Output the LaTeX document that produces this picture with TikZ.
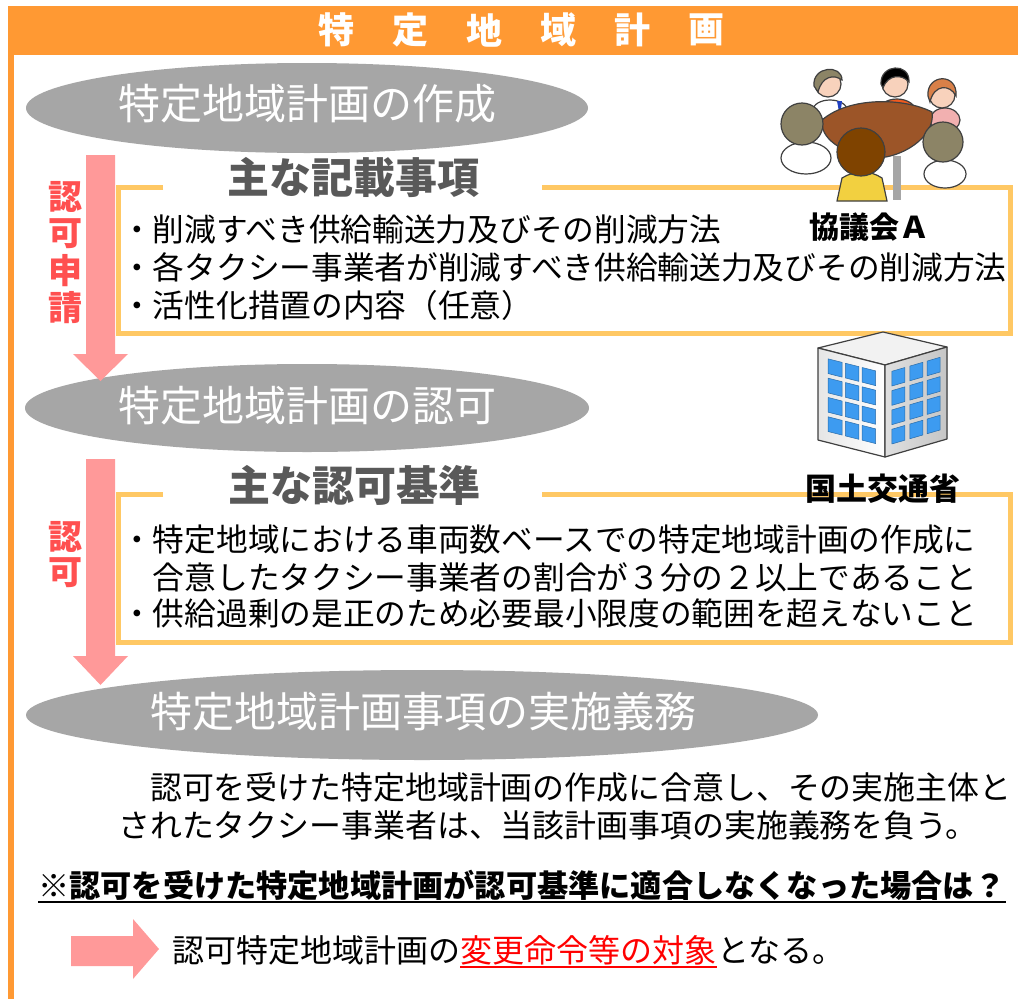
\documentclass[tikz,border=0pt]{standalone}
\usepackage{fontspec}
\setmainfont{Noto Sans CJK JP}
\usetikzlibrary{shapes.geometric}

\definecolor{hdr}{HTML}{FF9933}
\definecolor{ovalgray}{HTML}{A6A6A6}
\definecolor{flowpink}{HTML}{FF9999}
\definecolor{framecol}{HTML}{FFC864}
\definecolor{lblred}{HTML}{FF5050}
\definecolor{ttlgray}{HTML}{595959}
\definecolor{skin}{HTML}{F8D2BC}
\definecolor{hairolive}{HTML}{8C8466}
\definecolor{hairorange}{HTML}{D98048}
\definecolor{hairbrown}{HTML}{7F4300}
\definecolor{shirtorange}{HTML}{F05A1E}
\definecolor{shirtpink}{HTML}{F2B0B0}
\definecolor{shirtyellow}{HTML}{F2D040}
\definecolor{tablebrown}{HTML}{9C5528}
\definecolor{tieblue}{HTML}{2040C0}
\definecolor{winblue}{HTML}{3D9BF0}

\tikzset{
  oval/.style={ellipse, fill=ovalgray, draw=none, inner sep=0},
  ovaltext/.style={inner sep=0, text=white, font=\fontsize{42}{50}\selectfont},
  item/.style={anchor=west, inner sep=0, font=\fontsize{31.7}{38}\selectfont},
  boxtitle/.style={inner sep=0, text=ttlgray, font=\fontsize{42}{48}\selectfont\bfseries},
  vlabel/.style={inner sep=0, text=lblred, font=\fontsize{34}{40}\selectfont\bfseries},
  hdrchar/.style={inner sep=0, text=white, font=\fontsize{36}{40}\selectfont\bfseries},
  caption/.style={inner sep=0, font=\fontsize{30}{36}\selectfont\bfseries},
  framebox/.style={draw=framecol, line width=5pt},
  flowarrow/.style={fill=flowpink, draw=none},
  outline/.style={draw=black!75, line width=1.2pt},
  window/.style={fill=winblue, draw=winblue!70!black, line width=0.5pt},
}

\begin{document}
\begin{tikzpicture}[x=1pt, y=-1pt]
\useasboundingbox (0,0) rectangle (1018,999);
\fill[white] (0,0) rectangle (1018,999);

% header bar and left rule
\fill[hdr] (8,6) rectangle (1018,55);
\fill[hdr] (8,55) rectangle (14,999);
\foreach \c [count=\i from 0] in {特,定,地,域,計,画}
  \node[hdrchar] (h\i) at ({336+74*\i},30) {\c};

% stage ellipses
\node[oval, minimum width=562, minimum height=90] (e1) at (307,108) {};
\node[ovaltext] (e1t) at (307,104) {特定地域計画の作成};
\node[oval, minimum width=564, minimum height=88] (e2) at (307,408) {};
\node[ovaltext] (e2t) at (307,406) {特定地域計画の認可};
\node[oval, minimum width=792, minimum height=90] (e3) at (422,715) {};
\node[ovaltext] (e3t) at (423,712) {特定地域計画事項の実施義務};

% downward block arrows
\fill[flowarrow] (86,155) -- (115,155) -- (115,354) -- (128,354) -- (100.5,381)
  -- (73,354) -- (86,354) -- cycle;
\fill[flowarrow] (86,459) -- (115,459) -- (115,656) -- (128,656) -- (100.5,685)
  -- (73,656) -- (86,656) -- cycle;

% vertical labels beside the arrows
\node[vlabel] (l1) at (65,197) {認};
\node[vlabel] (l2) at (65,234) {可};
\node[vlabel] (l3) at (65,271) {申};
\node[vlabel] (l4) at (65,308) {請};
\node[vlabel] (l5) at (65,537) {認};
\node[vlabel] (l6) at (65,573) {可};

% frame 1: main entries
\draw[framebox] (163,187) -- (118.5,187) -- (118.5,333) -- (1010,333) -- (1010,187) -- (542,187);
\node[boxtitle] (b1t) at (353,177) {主な記載事項};
\node[item] (i1) at (121,229) {・削減すべき供給輸送力及びその削減方法};
\node[item] (i2) at (121,267) {・各タクシー事業者が削減すべき供給輸送力及びその削減方法};
\node[item] (i3) at (121,305) {・活性化措置の内容（任意）};

% frame 2: approval criteria
\draw[framebox] (163,494) -- (118.5,494) -- (118.5,642) -- (1010,642) -- (1010,494) -- (542,494);
\node[boxtitle] (b2t) at (354,485) {主な認可基準};
\node[item] (k1) at (121,540) {・特定地域における車両数ベースでの特定地域計画の作成に};
\node[item] (k2) at (121,577) {　合意したタクシー事業者の割合が３分の２以上であること};
\node[item] (k3) at (121,613) {・供給過剰の是正のため必要最小限度の範囲を超えないこと};

% council meeting figure
\begin{scope}
  % back row
  \filldraw[outline, fill=white] (830,110) ellipse [x radius=17, y radius=10];
  \fill[tieblue] (837,101) -- (842,101) -- (840,117) -- cycle;
  \filldraw[outline, fill=skin] (828,84) circle [radius=13];
  \filldraw[outline, fill=hairolive] (814,86) .. controls (812,66) and (842,64) .. (842,80)
    .. controls (834,74) and (822,76) .. (818,92) -- cycle;
  \filldraw[outline, fill=shirtorange] (897,112) ellipse [x radius=19, y radius=13];
  \filldraw[outline, fill=skin] (895,84) circle [radius=13];
  \filldraw[outline, fill=black] (881,84) .. controls (880,64) and (910,62) .. (909,82)
    .. controls (902,74) and (888,74) .. (883,88) -- cycle;
  \filldraw[outline, fill=shirtpink] (945,120) ellipse [x radius=15, y radius=12];
  \filldraw[outline, fill=skin] (942,95) circle [radius=13];
  \filldraw[outline, fill=hairorange] (928,96) .. controls (926,74) and (958,72) .. (956,96)
    .. controls (950,84) and (934,84) .. (930,102) -- cycle;
  % table
  \filldraw[outline, fill=tablebrown] (822,120) .. controls (850,96) and (905,98) .. (932,112)
    .. controls (936,136) and (902,160) .. (870,158) .. controls (840,152) and (820,138) .. (822,120) -- cycle;
  \fill[gray!70] (893,156) rectangle (901,200);
  % front row
  \filldraw[outline, fill=white] (806,158) ellipse [x radius=25, y radius=16];
  \filldraw[outline, fill=hairolive] (802,124) circle [radius=21];
  \filldraw[outline, fill=white] (945,174) ellipse [x radius=21, y radius=14];
  \filldraw[outline, fill=hairolive] (943,142) circle [radius=20];
  \filldraw[outline, fill=shirtyellow] (837,201) -- (842,178) .. controls (855,170) and (870,170) .. (882,178)
    -- (887,201) -- cycle;
  \filldraw[outline, fill=hairbrown] (861,152) circle [radius=24];
\end{scope}
\node[caption] (council) at (869,227) {協議会Ａ};

% ministry building
\begin{scope}[line join=round]
  \filldraw[outline, fill=gray!10] (818,348) -- (883,332) -- (947,347) -- (885,365) -- cycle;
  \filldraw[outline, left color=gray!20, right color=white] (818,348) -- (885,365) -- (885,457) -- (818,440) -- cycle;
  \filldraw[outline, left color=gray!25, right color=gray!45] (885,365) -- (947,347) -- (947,439) -- (885,457) -- cycle;
  \foreach \ua/\ub in {0.15/0.36,0.41/0.61,0.66/0.86}
    \foreach \va/\vb in {0.09/0.25,0.30/0.46,0.51/0.67,0.72/0.88}
      \filldraw[window] ({818+67*\ua},{348+17*\ua+92*\va}) -- ({818+67*\ub},{348+17*\ub+92*\va})
        -- ({818+67*\ub},{348+17*\ub+92*\vb}) -- ({818+67*\ua},{348+17*\ua+92*\vb}) -- cycle;
  \foreach \ua/\ub in {0.11/0.32,0.40/0.61,0.68/0.89}
    \foreach \va/\vb in {0.09/0.25,0.30/0.46,0.51/0.67,0.72/0.88}
      \filldraw[window] ({885+62*\ua},{365-18*\ua+92*\va}) -- ({885+62*\ub},{365-18*\ub+92*\va})
        -- ({885+62*\ub},{365-18*\ub+92*\vb}) -- ({885+62*\ua},{365-18*\ua+92*\vb}) -- cycle;
\end{scope}
\node[caption, font=\fontsize{31}{36}\selectfont\bfseries] (ministry) at (883,489) {国土交通省};

% obligation text
\node[item, font=\fontsize{31.9}{38}\selectfont] (o1) at (118,787) {　認可を受けた特定地域計画の作成に合意し、その実施主体と};
\node[item, font=\fontsize{31.9}{38}\selectfont] (o2) at (118,825) {されたタクシー事業者は、当該計画事項の実施義務を負う。};

% question heading
\node[item, font=\fontsize{31.2}{38}\selectfont\bfseries] (q) at (38,885)
  {※認可を受けた特定地域計画が認可基準に適合しなくなった場合は？};
\draw[line width=2.5pt] ([yshift=-5pt]q.base west) -- ([yshift=-5pt]q.base east);

% answer with right arrow
\fill[flowarrow] (71,936) -- (133,936) -- (133,919) -- (159,949) -- (133,979) -- (133,966) -- (71,966) -- cycle;
\node[item, font=\fontsize{32}{38}\selectfont] (a1) at (172,950) {認可特定地域計画の};
\node[inner sep=0, anchor=base west, text=red, font=\fontsize{32}{38}\selectfont] (a2) at (a1.base east) {変更命令等の対象};
\node[inner sep=0, anchor=base west, font=\fontsize{32}{38}\selectfont] (a3) at (a2.base east) {となる。};
\draw[red, line width=2pt] ([yshift=-5pt]a2.base west) -- ([yshift=-5pt]a2.base east);
\end{tikzpicture}
\end{document}
